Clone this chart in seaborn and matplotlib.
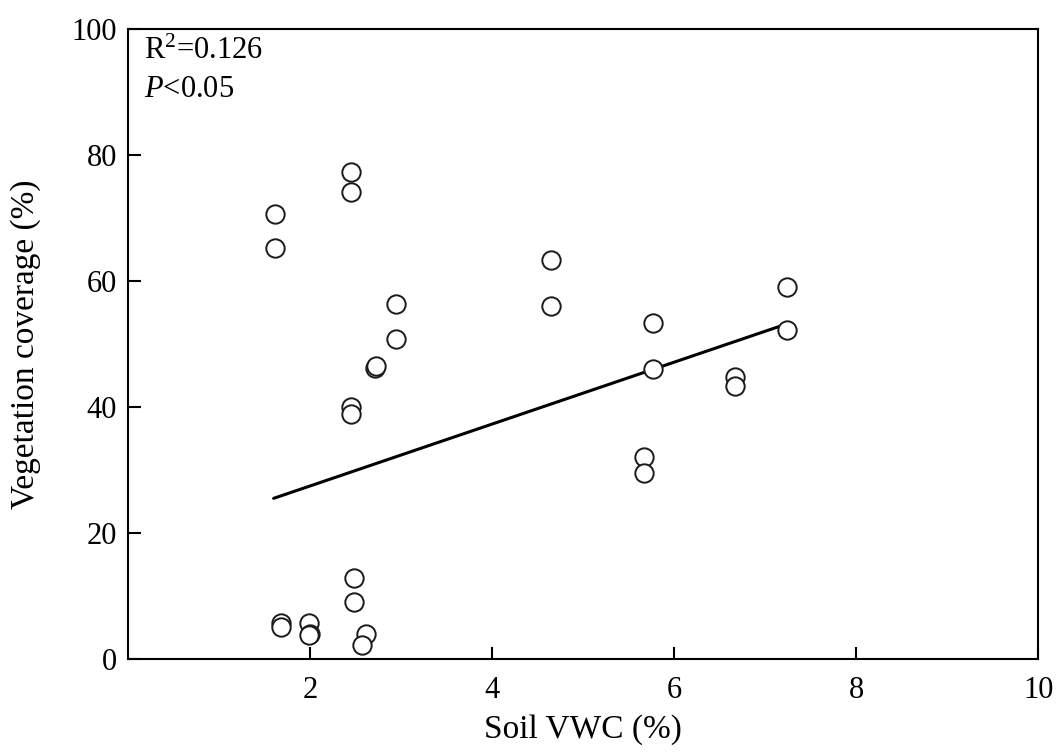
import matplotlib
matplotlib.use("Agg")
import matplotlib.pyplot as plt
import seaborn as sns
import pandas as pd

soil_vwc = [2.45, 2.45, 1.61, 1.61, 2.945, 2.945, 2.71, 2.72, 2.45, 2.45,
            1.68, 1.68, 1.985, 2.0, 1.985, 2.48, 2.48, 2.615, 2.575,
            4.65, 4.65, 5.77, 5.77, 6.67, 6.67, 5.67, 5.67, 7.245, 7.245]
veg_cover = [77.3, 74.1, 70.6, 65.3, 56.3, 50.8, 46.2, 46.5, 40.0, 38.9,
             5.7, 5.1, 5.7, 4.0, 3.8, 12.8, 9.1, 4.0, 2.3,
             63.3, 56.1, 53.3, 46.0, 44.7, 43.3, 32.0, 29.5, 59.0, 52.2]
# fitted regression line as shown in the figure (end points)
fit_x = [1.60, 7.24]
fit_y = [25.5, 53.2]
x_ticks = [2, 4, 6, 8, 10]
y_ticks = [0, 20, 40, 60, 80, 100]

df = pd.DataFrame({"x": soil_vwc, "y": veg_cover})
fit_df = pd.DataFrame({"x": fit_x, "y": fit_y})

sns.set_theme(style="white")
plt.rcParams['font.family'] = ['Liberation Serif', 'DejaVu Serif']
plt.rcParams['mathtext.fontset'] = 'custom'
plt.rcParams['mathtext.rm'] = 'Liberation Serif'
plt.rcParams['mathtext.it'] = 'Liberation Serif:italic'

fig = plt.figure(figsize=(10.57, 7.54), dpi=100)
ax = fig.add_axes([0.1211, 0.126, 0.861, 0.8355])

sns.lineplot(data=fit_df, x="x", y="y", ax=ax, color="black", lw=2.2, zorder=2)
sns.scatterplot(data=df, x="x", y="y", ax=ax, s=175, facecolor="white",
                edgecolor="#1a1a1a", linewidth=1.4, zorder=3)

ax.set_xlim(0, 10)
ax.set_ylim(0, 100)
ax.set_xticks(x_ticks)
ax.set_yticks(y_ticks)
ax.tick_params(direction="in", length=9, width=1.5, labelsize=22, colors="black",
               bottom=True, left=True, top=False, right=False)
ax.tick_params(axis="x", pad=12)
ax.tick_params(axis="y", pad=8)
for sp in ax.spines.values():
    sp.set_color("black")
    sp.set_linewidth(1.5)
ax.set_xlabel("Soil VWC (%)", fontsize=24, color="black", labelpad=7)
ax.set_ylabel("Vegetation coverage (%)", fontsize=24, color="black", labelpad=22)

ax.text(0.018, 0.952, r"R$^{2}$=0.126", transform=ax.transAxes, fontsize=22,
        va="baseline", ha="left", color="black")
ax.text(0.018, 0.892, r"$\mathit{P}$<0.05", transform=ax.transAxes, fontsize=22,
        va="baseline", ha="left", color="black")

fig.savefig("out.png", dpi=100)
